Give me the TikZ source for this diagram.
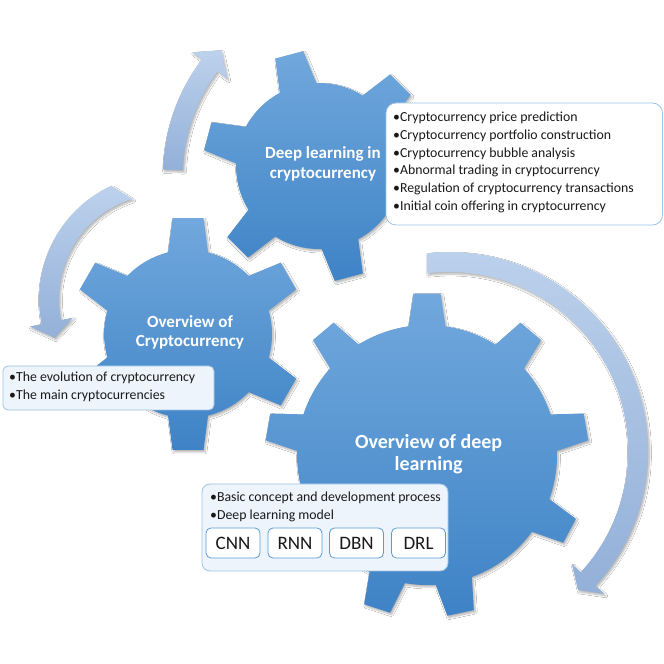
\documentclass[tikz,border=0pt]{standalone}
\usepackage{fontspec}
\setmainfont{Carlito}
\usetikzlibrary{calc,shadows.blur}
\definecolor{geartop}{HTML}{71A8DD}
\definecolor{gearbot}{HTML}{3E83C6}
\definecolor{arrtop}{HTML}{BCD1EC}
\definecolor{arrbot}{HTML}{93B0D8}
\definecolor{boxline}{HTML}{9DC3E6}
\definecolor{subline}{HTML}{5B9BD5}
\definecolor{boxfill}{HTML}{EEF4FB}
\begin{document}
\begin{tikzpicture}[x=1pt,y=1pt,
  softshadow/.style={blur shadow={shadow xshift=1.5pt, shadow yshift=-2pt, shadow blur steps=6, shadow opacity=30}},
  gearfill/.style={softshadow, top color=geartop, bottom color=gearbot},
  arrowfill/.style={softshadow, top color=arrtop, bottom color=arrbot},
  geartext/.style={text=white, font=\bfseries\fontsize{17}{19.6}\selectfont, align=center, inner sep=0pt},
  infobox/.style={draw=boxline, line width=0.8pt, rounded corners=8pt},
  infotext/.style={align=left, inner sep=0pt, anchor=west, text=black!90, font=\fontsize{13.8}{17.8}\selectfont},
  modelbox/.style={draw=subline, line width=0.8pt, rounded corners=5pt, fill=white, minimum width=54pt, minimum height=30pt, inner sep=0pt, text=black!90, font=\fontsize{19}{22}\selectfont}]
\useasboundingbox (0,0) rectangle (664,664);
\fill[white] (0,0) rectangle (664,664);

% ---- curved arrows ----
\begin{scope}[shift={(355,489)}]
\path[arrowfill] (178.4:192pt) arc[start angle=178.4, end angle=143, radius=192pt]
  -- (143:204pt) -- ($(143:182pt)+(53:19pt)$) -- (143:160pt) -- (143:172pt)
  arc[start angle=143, end angle=178.4, radius=172pt] -- cycle;
\end{scope}
\begin{scope}[shift={(164,365)}]
\path[arrowfill] (115:125pt) arc[start angle=115, end angle=191.6, radius=125pt]
  -- (191.6:137pt) -- ($(191.6:115pt)+(281.6:16pt)$) -- (191.6:93pt) -- (191.6:105pt)
  arc[start angle=191.6, end angle=107.5, radius=105pt] -- cycle;
\end{scope}
\begin{scope}[shift={(449,213)}]
\path[arrowfill] (96.3:199pt) arc[start angle=96.3, end angle=-42.6, radius=199pt]
  -- (-42.6:211pt) -- ($(-42.6:189pt)+(-132.6:15pt)$) -- (-42.6:167pt) -- (-42.6:179pt)
  arc[start angle=-42.6, end angle=97, radius=179pt] -- cycle;
\end{scope}

% ---- gears ----
\begin{scope}[shift={(188,330)}]
\path[gearfill] (30-13.8:84pt) \foreach \t in {30,90,150,210,270,330} {
  -- (\t-7.6:117pt) -- (\t+7.6:117pt) -- (\t+13.8:84pt)
  arc[start angle=\t+13.8, end angle=\t+60-13.8, radius=84pt] } -- cycle;
\end{scope}
\begin{scope}[shift={(319,498)}]
\path[gearfill] (45-13.2:83pt) \foreach \t in {45,105,165,225,285,345} {
  -- (\t-7.2:116pt) -- (\t+7.2:116pt) -- (\t+13.2:83pt)
  arc[start angle=\t+13.2, end angle=\t+60-13.2, radius=83pt] } -- cycle;
\end{scope}
\begin{scope}[shift={(427,209)}]
\path[gearfill] (10-8.2:130pt) \foreach \t/\n in {10/50,50/90,90/130,130/170,170/210,210/252,252/282,282/332,332/370} {
  -- (\t-4.8:162pt) -- (\t+4.8:162pt) -- (\t+8.2:130pt)
  arc[start angle=\t+8.2, end angle=\n-8.2, radius=130pt] } -- cycle;
\end{scope}

\node[geartext] (g1) at (323,500) {Deep learning in\\cryptocurrency};
\node[geartext] (g2) at (190,331.5) {Overview of\\Cryptocurrency};
\node[geartext, font=\bfseries\fontsize{20}{21.7}\selectfont] (g3) at (428.6,210) {Overview of deep\\learning};

% ---- info boxes ----
\path[infobox, fill=white, rounded corners=10pt] (386,561) rectangle (662.5,439);
\node[infotext] (t1) at (393,501.5) {•Cryptocurrency price prediction\\•Cryptocurrency portfolio construction\\•Cryptocurrency bubble analysis\\•Abnormal trading in cryptocurrency\\•Regulation of cryptocurrency transactions\\•Initial coin offering in cryptocurrency};

\path[infobox, fill=boxfill, rounded corners=5pt] (3,298) rectangle (214,254);
\node[infotext] (t2) at (9,277.5) {•The evolution of cryptocurrency\\•The main cryptocurrencies};

\path[infobox, fill=boxfill] (202,180) rectangle (448,93);
\node[infotext] (t3) at (210,157.3) {•Basic concept and development process\\•Deep learning model};
\node[modelbox] (cnn) at (233,121) {CNN};
\node[modelbox] (rnn) at (295,121) {RNN};
\node[modelbox] (dbn) at (356.5,121) {DBN};
\node[modelbox] (drl) at (418.5,121) {DRL};
\end{tikzpicture}
\end{document}
